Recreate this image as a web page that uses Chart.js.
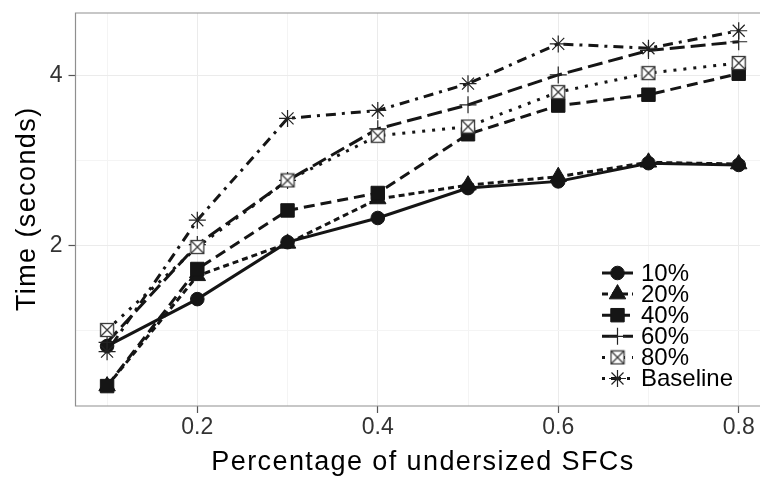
<!DOCTYPE html>
<html>
<head>
<meta charset="utf-8">
<script src="https://cdn.jsdelivr.net/npm/chart.js@4.4.1/dist/chart.umd.min.js"></script>
<style>
html,body{margin:0;padding:0;background:#ffffff;overflow:hidden;}
#wrap{width:760px;height:477px;position:relative;}
canvas{display:block;}
</style>
</head>
<body>
<div id="wrap"><canvas id="c" width="760" height="477"></canvas></div>
<script>
// ---- data ----
const categories = [0.1, 0.2, 0.3, 0.4, 0.5, 0.6, 0.7, 0.8];
const seriesNames = ['10%', '20%', '40%', '60%', '80%', 'Baseline'];
const s10  = [1.33, 1.61, 2.03, 2.24, 2.53, 2.60, 2.80, 2.78];
const s20  = [1.13, 1.77, 2.02, 2.42, 2.56, 2.65, 2.81, 2.79];
const s40  = [1.13, 1.82, 2.31, 2.48, 3.15, 3.54, 3.70, 4.03];
const s60  = [1.35, 2.01, 2.61, 3.22, 3.55, 4.01, 4.43, 4.59];
const s80  = [1.42, 1.99, 2.61, 3.13, 3.25, 3.74, 4.04, 4.21];
const sBase = [1.30, 2.22, 3.36, 3.47, 3.87, 4.55, 4.47, 4.80];
const xTickLabels = [0.2, 0.4, 0.6, 0.8];
const yTickLabels = [2, 4];
const xTitle = 'Percentage of undersized SFCs';
const yTitle = 'Time (seconds)';

const FONT = "'Liberation Sans', Arial, Helvetica, sans-serif";
const INK = '#151515';

// box with X marker (ggplot shape 7)
function boxCross() {
  const c = document.createElement('canvas');
  c.width = 16; c.height = 16;
  const g = c.getContext('2d');
  g.fillStyle = '#ffffff';
  g.fillRect(1.5, 1.5, 13, 13);
  g.strokeStyle = '#3a3a3a';
  g.lineWidth = 1.3;
  g.strokeRect(1.5, 1.5, 13, 13);
  g.beginPath();
  g.moveTo(1.5, 1.5); g.lineTo(14.5, 14.5);
  g.moveTo(14.5, 1.5); g.lineTo(1.5, 14.5);
  g.stroke();
  return c;
}
const boxImg = boxCross();

const seriesValues = [s10, s20, s40, s60, s80, sBase];
const styles = [
  {ps: 'circle',   r: 6.8, dash: [],           fill: INK,  bc: INK,    bw: 1},
  {ps: 'triangle', r: 9.5, dash: [6, 4],       fill: INK,  bc: INK,    bw: 1},
  {ps: 'rect',     r: 9.5, dash: [11, 6],      fill: INK,  bc: INK,    bw: 1},
  {ps: 'cross',    r: 8.5, dash: [15, 6],      fill: INK,  bc: '#222', bw: 1.2},
  {ps: boxImg,     r: 8,   dash: [3, 7],       fill: INK,  bc: '#333', bw: 1},
  {ps: 'star',     r: 8.5, dash: [3, 6, 10, 6],fill: INK,  bc: '#222', bw: 1.2}
];

const datasets = seriesNames.map((name, i) => ({
  label: name,
  data: categories.map((x, j) => ({x: x, y: seriesValues[i][j]})),
  borderColor: INK,
  borderWidth: 3,
  borderDash: styles[i].dash,
  borderCapStyle: 'butt',
  tension: 0,
  fill: false,
  pointStyle: styles[i].ps,
  pointRadius: styles[i].r,
  pointBackgroundColor: styles[i].fill,
  pointBorderColor: styles[i].bc,
  pointBorderWidth: styles[i].bw,
  order: seriesNames.length - i
}));

function near(a, b) { return Math.abs(a - b) < 1e-6; }
const xGrid = categories.slice();
const yGrid = [yTickLabels[0] / Math.SQRT2, Math.sqrt(yTickLabels[0] * yTickLabels[1]), ...yTickLabels].sort((a, b) => a - b);

const panelBorder = {
  id: 'panelBorder',
  afterDatasetsDraw(chart) {
    const {ctx, chartArea: a} = chart;
    ctx.save();
    ctx.strokeStyle = '#8f8f8f';
    ctx.lineWidth = 1.2;
    ctx.beginPath();
    ctx.moveTo(a.right + 2, a.top);
    ctx.lineTo(a.left, a.top);
    ctx.lineTo(a.left, a.bottom);
    ctx.lineTo(a.right + 2, a.bottom);
    ctx.stroke();
    ctx.restore();
  }
};

function drawMarker(ctx, ds, x, y) {
  const ps = ds.pointStyle, r = ds.pointRadius;
  ctx.save();
  ctx.fillStyle = ds.pointBackgroundColor;
  ctx.strokeStyle = ds.pointBorderColor;
  ctx.lineWidth = ds.pointBorderWidth;
  if (Chart.helpers && Chart.helpers.drawPoint) {
    Chart.helpers.drawPoint(ctx, {pointStyle: ps, radius: r, rotation: 0, borderWidth: ds.pointBorderWidth}, x, y);
  } else if (typeof ps !== 'string') {
    ctx.drawImage(ps, x - ps.width / 2, y - ps.height / 2);
  }
  ctx.restore();
}

const titlesAndLegend = {
  id: 'titlesAndLegend',
  afterDraw(chart) {
    const {ctx, chartArea: a} = chart;
    ctx.save();
    ctx.fillStyle = '#000';
    ctx.font = '27px ' + FONT;
    try { ctx.letterSpacing = '1.4px'; } catch (e) {}
    ctx.textAlign = 'center';
    ctx.textBaseline = 'alphabetic';
    ctx.fillText(xTitle, a.left + 347.5, 469.5);
    ctx.translate(34.5, (a.top + a.bottom) / 2);
    ctx.rotate(-Math.PI / 2);
    ctx.fillText(yTitle, 0.7, 0);
    ctx.restore();

    // legend
    chart.data.datasets.forEach((ds, i) => {
      const y = 273 + i * 21.1;
      ctx.save();
      ctx.strokeStyle = ds.borderColor;
      ctx.lineWidth = ds.borderWidth;
      ctx.lineCap = 'butt';
      ctx.setLineDash(ds.borderDash || []);
      ctx.beginPath();
      ctx.moveTo(602, y);
      ctx.lineTo(633, y);
      ctx.stroke();
      ctx.restore();
      drawMarker(ctx, ds, 617.5, y);
      ctx.save();
      ctx.fillStyle = '#000';
      ctx.font = '24px ' + FONT;
      ctx.textAlign = 'left';
      ctx.textBaseline = 'middle';
      ctx.fillText(ds.label, 641, y + 1);
      ctx.restore();
    });
  }
};

new Chart(document.getElementById('c'), {
  type: 'line',
  data: {datasets: datasets},
  plugins: [panelBorder, titlesAndLegend],
  options: {
    responsive: false,
    devicePixelRatio: 1,
    animation: false,
    events: [],
    layout: {autoPadding: false, padding: {top: 13, left: 0, right: 0, bottom: 0}},
    plugins: {legend: {display: false}, tooltip: {enabled: false}},
    scales: {
      x: {
        type: 'linear',
        min: 0.065,
        max: 0.8236,
        afterBuildTicks: s => { s.ticks = xGrid.map(v => ({value: v})); },
        afterFit: s => { s.height = 71; s.paddingLeft = 0; s.paddingRight = 0; },
        border: {display: false},
        grid: {
          color: c => (c.tick && xTickLabels.some(t => near(t, c.tick.value))) ? '#ebebeb' : '#f4f4f4',
          lineWidth: 1,
          drawTicks: true,
          tickLength: 7,
          tickWidth: 1.2,
          tickColor: c => (c.tick && xTickLabels.some(t => near(t, c.tick.value))) ? '#555' : 'rgba(0,0,0,0)'
        },
        ticks: {
          autoSkip: false,
          maxRotation: 0,
          minRotation: 0,
          padding: 1,
          color: '#333',
          font: {family: FONT, size: 23},
          callback: v => xTickLabels.some(t => near(t, v)) ? v.toFixed(1) : ''
        }
      },
      y: {
        type: 'logarithmic',
        min: 1.042,
        max: 5.16,
        afterBuildTicks: s => { s.ticks = yGrid.map(v => ({value: v})); },
        afterFit: s => { s.width = 75.5; s.paddingTop = 0; s.paddingBottom = 0; },
        border: {display: false},
        grid: {
          color: c => (c.tick && yTickLabels.some(t => near(t, c.tick.value))) ? '#ebebeb' : '#f4f4f4',
          lineWidth: 1,
          drawTicks: true,
          tickLength: 7,
          tickWidth: 1.2,
          tickColor: c => (c.tick && yTickLabels.some(t => near(t, c.tick.value))) ? '#555' : 'rgba(0,0,0,0)'
        },
        ticks: {
          autoSkip: false,
          padding: 6,
          color: '#333',
          font: {family: FONT, size: 23},
          callback: v => yTickLabels.some(t => near(t, v)) ? String(v) : ''
        }
      }
    }
  }
});
</script>
</body>
</html>
